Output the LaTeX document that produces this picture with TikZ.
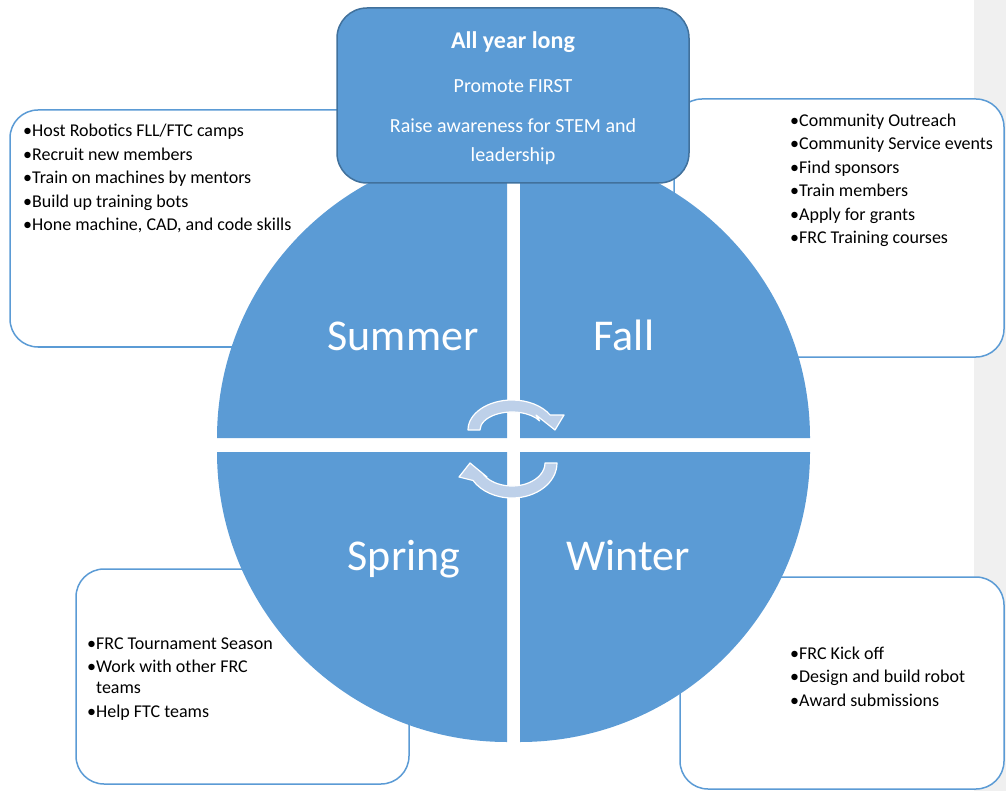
\documentclass[tikz,border=0pt]{standalone}
\usepackage{fontspec}
\setmainfont{Carlito}
\definecolor{SeasonBlue}{RGB}{91,155,213}
\definecolor{BoxEdge}{RGB}{65,113,156}
\definecolor{ArrowFill}{RGB}{189,208,233}
\definecolor{StripGray}{RGB}{240,240,240}
\begin{document}
\begin{tikzpicture}[x=1pt,y=-1pt,
            listbox/.style={draw=SeasonBlue, line width=1.5pt, fill=white, rounded corners=28pt},
            listtext/.style={anchor=base west, align=left, inner sep=0pt, font=\fontsize{18}{23.5}\selectfont},
            season/.style={anchor=base, inner sep=0pt, text=white, font=\fontsize{44}{52}\selectfont},
            cyclearrow/.style={fill=ArrowFill, draw=white, line width=1.2pt, line join=round}]
            \def\radius{290}
            \useasboundingbox (0,0) rectangle (1006,791);
            \fill[StripGray] (974,0) rectangle (1006,791);
            \draw[listbox] (10,110) rectangle (400,347);
            \draw[listbox] (674,99) rectangle (1004,357);
            \draw[listbox] (76,569) rectangle (409,784);
            \draw[listbox] (680,577) rectangle (1004,789);
            \node (summertext) [listtext] at (23,231) {\textbullet Host Robotics FLL/FTC camps\\\textbullet Recruit new members\\\textbullet Train on machines by mentors\\\textbullet Build up training bots\\\textbullet Hone machine, CAD, and code skills};
            \node (falltext) [listtext] at (790,244) {\textbullet Community Outreach\\\textbullet Community Service events\\\textbullet Find sponsors\\\textbullet Train members\\\textbullet Apply for grants\\\textbullet FRC Training courses};
            \node (springtext) [listtext] at (87,717) {\textbullet FRC Tournament Season\\\textbullet Work with other FRC\\[-2.5pt]\phantom{\textbullet}teams\\\textbullet Help FTC teams};
            \node (wintertext) [listtext] at (790,706) {\textbullet FRC Kick off\\\textbullet Design and build robot\\\textbullet Award submissions};
            \coordinate (CornerSummer) at (507,438);
            \coordinate (CornerFall) at (520,438);
            \coordinate (CornerWinter) at (520,452);
            \coordinate (CornerSpring) at (507,452);
            \fill[SeasonBlue] (CornerSummer) -- ++(-\radius,0) arc[start angle=180, end angle=270, radius=\radius] -- cycle;
            \fill[SeasonBlue] (CornerFall) -- ++(0,-\radius) arc[start angle=270, end angle=360, radius=\radius] -- cycle;
            \fill[SeasonBlue] (CornerWinter) -- ++(\radius,0) arc[start angle=0, end angle=90, radius=\radius] -- cycle;
            \fill[SeasonBlue] (CornerSpring) -- ++(0,\radius) arc[start angle=90, end angle=180, radius=\radius] -- cycle;
            \node (summer) [season] at (403,350) {Summer};
            \node (fall) [season] at (624,350) {Fall};
            \node (spring) [season] at (404,570) {Spring};
            \node (winter) [season] at (628,570) {Winter};
            \node (allyear) [draw=BoxEdge, fill=SeasonBlue, line width=1.5pt, rounded corners=30pt, minimum width=352pt, minimum height=175pt, inner sep=0pt] at (513,95.5) {};
            \node (allyeartext) [anchor=base, align=center, inner sep=0pt, text=white, font=\fontsize{20}{29}\selectfont] at (513,162) {{\bfseries\fontsize{24}{29}\selectfont All year long}\\[14.5pt]Promote FIRST\\[11.5pt]Raise awareness for STEM and\\leadership};
            \begin{scope}[shift={(512,430)}, yscale=-1]
                \filldraw[cyclearrow] (180:44 and 30) arc[start angle=180, end angle=30, x radius=44, y radius=30] -- (52,15) -- (43,0) -- (24,15) -- (30:32 and 18) arc[start angle=30, end angle=180, x radius=32, y radius=18] -- cycle;
            \end{scope}
            \begin{scope}[shift={(512,463)}, yscale=-1, rotate=180]
                \filldraw[cyclearrow] (180:45 and 35) arc[start angle=180, end angle=30, x radius=45, y radius=35] -- (53,14) -- (42,0) -- (25,14) -- (30:33 and 23) arc[start angle=30, end angle=180, x radius=33, y radius=23] -- cycle;
            \end{scope}
        \end{tikzpicture}
\end{document}
